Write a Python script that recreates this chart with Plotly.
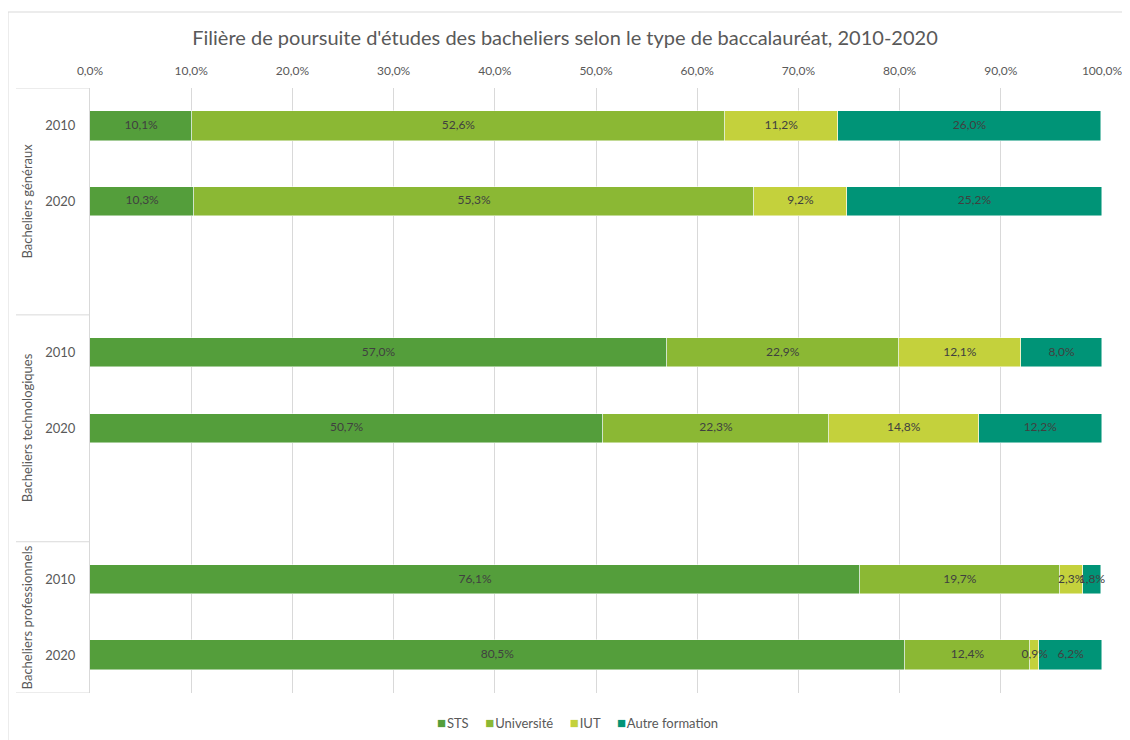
import plotly.graph_objects as go

# ---- data ----
groups = ["Bacheliers généraux", "Bacheliers technologiques", "Bacheliers professionnels"]
years = ["2010", "2020"]
series_names = ["STS", "Université", "IUT", "Autre formation"]
sts = [10.1, 10.3, 57.0, 50.7, 76.1, 80.5]
universite = [52.6, 55.3, 22.9, 22.3, 19.7, 12.4]
iut = [11.2, 9.2, 12.1, 14.8, 2.3, 0.9]
autre = [26.0, 25.2, 8.0, 12.2, 1.8, 6.2]
x_ticks = [0, 10, 20, 30, 40, 50, 60, 70, 80, 90, 100]

colors = ["#549E3B", "#8BB834", "#C4D13C", "#009477"]


def fr(v):
    return f"{v:.1f}".replace(".", ",") + "%"


# row positions: each group occupies 3 slots (2 years + a blank), last group without blank
positions = []
ticktext = []
for g in range(len(groups)):
    for i, yr in enumerate(years):
        positions.append(g * 3 + i)
        ticktext.append(yr)

fig = go.Figure()
all_series = [sts, universite, iut, autre]
for name, vals, col in zip(series_names, all_series, colors):
    fig.add_trace(go.Bar(
        name=name, y=positions, x=vals, orientation="h",
        marker=dict(color=col, line=dict(color="rgba(255,255,255,0.6)", width=0.8)),
        width=0.39, showlegend=False, hoverinfo="x+name",
    ))

# data labels, on top of all bars, centred in each segment
lab_x, lab_y, lab_t = [], [], []
cum = [0.0] * len(positions)
for vals in all_series:
    for k, v in enumerate(vals):
        lab_x.append(cum[k] + v / 2)
        lab_y.append(positions[k])
        lab_t.append(fr(v))
        cum[k] += v
fig.add_trace(go.Scatter(x=lab_x, y=lab_y, text=lab_t, mode="text", cliponaxis=False,
                         textposition="middle center", showlegend=False, hoverinfo="skip",
                         textfont=dict(family="Lato", size=12, color="#404040")))

n_slots = len(groups) * 3 - 1
grey = "#595959"
# the page adds an 8px body margin, so the figure is offset by (8, 8)
fig.update_layout(
    width=1130, height=740,
    barmode="stack",
    paper_bgcolor="white", plot_bgcolor="white",
    margin=dict(l=82, r=36, t=80, b=55),
    font=dict(family="Lato", color=grey, size=11),
    showlegend=False,
    title=dict(text="Filière de poursuite d'études des bacheliers selon le type de baccalauréat, 2010-2020",
               x=(565 - 8) / 1130, xanchor="center", y=1 - 30 / 740, yanchor="middle",
               font=dict(family="Lato", size=20, color=grey)),
    xaxis=dict(side="top", range=[0, 100], tickvals=x_ticks, ticktext=[fr(t) for t in x_ticks],
               showgrid=True, gridcolor="#D9D9D9", gridwidth=1, zeroline=False, showline=False,
               tickfont=dict(size=12, color=grey), ticks="", ticklabelstandoff=10, automargin=False),
    yaxis=dict(range=[n_slots - 0.5, -0.5], tickvals=positions, ticktext=ticktext,
               showgrid=False, zeroline=False, showline=True, linecolor="#D9D9D9", linewidth=1,
               tickfont=dict(size=13, color=grey), ticks="", ticklabelstandoff=11, automargin=False),
    bargap=0,
)

# group separators and rotated group labels
sep_x0 = (16 - 90) / 1012
bounds = [-0.5, 2.5, 5.5, n_slots - 0.5]
for b in bounds:
    fig.add_shape(type="line", xref="paper", yref="y", x0=sep_x0, x1=0, y0=b, y1=b,
                  line=dict(color="#D9D9D9", width=1))
for g, name in enumerate(groups):
    center = (bounds[g] + bounds[g + 1]) / 2
    fig.add_annotation(text=name, xref="paper", yref="y", x=(27 - 90) / 1012, y=center,
                       textangle=-90, showarrow=False, xanchor="center", yanchor="middle",
                       font=dict(size=13, color=grey))

# legend (compact, Excel-like)
legend_parts = [f'<span style="color:{c};font-size:15px">■</span>&#8202;{n}'
                for n, c in zip(series_names, colors)]
fig.add_annotation(text="&nbsp;&nbsp;&nbsp;&nbsp;&nbsp;".join(legend_parts), xref="paper", yref="paper",
                   x=(577 - 90) / 1012, y=-29 / 605, xanchor="center", yanchor="middle", showarrow=False,
                   font=dict(size=13, color=grey))

# outer frame
fig.add_shape(type="rect", xref="paper", yref="paper",
              x0=(8 - 90) / 1012, x1=(1140 - 90) / 1012,
              y0=(693 - 750) / 605, y1=(693 - 12) / 605,
              line=dict(color="#D9D9D9", width=1), layer="below")

fig.write_html("out.html")
